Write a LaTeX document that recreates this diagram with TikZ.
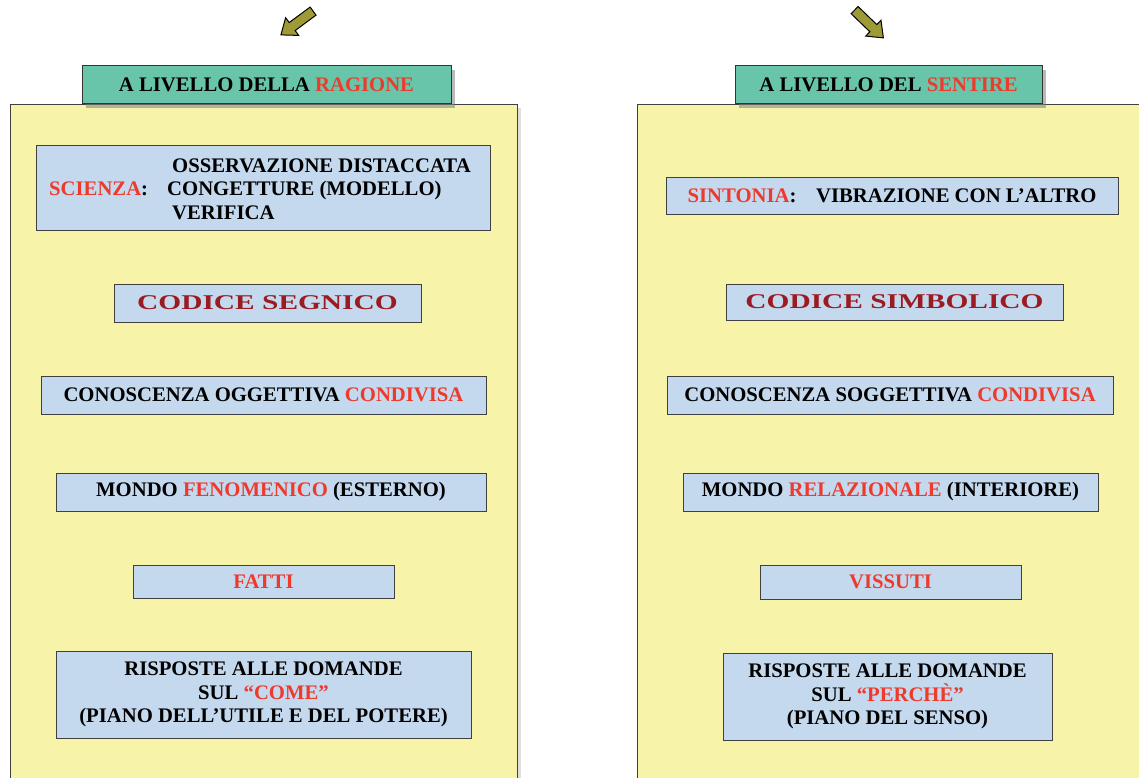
\documentclass[tikz,border=0pt]{standalone}
\usepackage{fontspec}
\setmainfont{Liberation Serif}
\usetikzlibrary{shadows}
\definecolor{panelY}{HTML}{F7F4AA}
\definecolor{boxB}{HTML}{C4D8EE}
\definecolor{headG}{HTML}{68C5A9}
\definecolor{redT}{HTML}{EE3A2C}
\definecolor{darkR}{HTML}{9A1C22}
\definecolor{olive}{HTML}{9E9A35}
\newcommand{\R}[1]{\textcolor{redT}{#1}}
\newcommand{\mainfs}{\bfseries\fontsize{20.7}{23.5}\selectfont}
\tikzset{
  panel/.style={draw=black!75, line width=1pt, fill=panelY, drop shadow={opacity=0.25, shadow xshift=4pt, shadow yshift=-3pt}},
  header/.style={draw=black!80, line width=1pt, fill=headG, inner sep=0pt, font=\mainfs, drop shadow={opacity=0.55, shadow xshift=4pt, shadow yshift=-4pt}},
  bbox/.style={draw=black!75, line width=1pt, fill=boxB, inner sep=0pt, align=center, font=\mainfs},
  codice/.style={font=\bfseries\fontsize{21}{23}\selectfont, text=darkR},
  blockarrow/.style={fill=olive, draw=black, line width=1pt, line join=miter}
}
\begin{document}
\begin{tikzpicture}[x=1pt,y=-1pt]
\useasboundingbox (0,0) rectangle (1139,778);
% arrows
\begin{scope}[shift={(297,23)}, rotate=216.5]
  \draw[blockarrow] (-20,-5) -- (6,-5) -- (6,-11) -- (20,0) -- (6,11) -- (6,5) -- (-20,5) -- cycle;
\end{scope}
\begin{scope}[shift={(869,24)}, rotate=-44]
  \draw[blockarrow] (-20,-5) -- (6,-5) -- (6,-11) -- (20,0) -- (6,11) -- (6,5) -- (-20,5) -- cycle;
\end{scope}
% panels
\path[panel] (10,105) rectangle (517,795);
\path[panel] (637,105) rectangle (1150,795);
% headers
\node[header, minimum width=369pt, minimum height=38pt] (hL) at (266.5,85) {A LIVELLO DELLA \R{RAGIONE}};
\node[header, minimum width=307pt, minimum height=38pt] (hR) at (888.5,85) {A LIVELLO DEL \R{SENTIRE}};
% left boxes
\node[bbox, minimum width=454pt, minimum height=84pt] (sci) at (263,188) {};
\node[anchor=west, font=\mainfs, text=redT, inner sep=0pt] (sciL) at (49,189) {SCIENZA\textcolor{black}{:}};
\node[anchor=west, font=\mainfs, align=left, inner sep=0pt] (sciT) at (167,189) {\hspace*{5pt}OSSERVAZIONE DISTACCATA\\CONGETTURE (MODELLO)\\\hspace*{5pt}VERIFICA};
\node[bbox, minimum width=307pt, minimum height=38pt] (cs) at (267.5,303) {};
\node[codice] at (cs) {\scalebox{1.4}[1]{CODICE SEGNICO}};
\node[bbox, minimum width=445pt, minimum height=38pt] (co) at (263.5,395) {CONOSCENZA OGGETTIVA \R{CONDIVISA}};
\node[bbox, minimum width=430pt, minimum height=38pt] (mf) at (271,492) {MONDO \R{FENOMENICO} (ESTERNO)};
\node[bbox, minimum width=261pt, minimum height=33pt] (fa) at (263.5,581.5) {\R{FATTI}};
\node[bbox, minimum width=415pt, minimum height=87pt] (rl) at (263.5,694.5) {RISPOSTE ALLE DOMANDE\\SUL \R{“COME”}\\(PIANO DELL’UTILE E DEL POTERE)};
% right boxes
\node[bbox, minimum width=452pt, minimum height=37pt] (si) at (892,195.5) {\R{SINTONIA}:\hspace{0.7em} VIBRAZIONE CON L’ALTRO};
\node[bbox, minimum width=337pt, minimum height=36pt] (csi) at (894.5,302) {};
\node[codice] at (csi) {\scalebox{1.4}[1]{CODICE SIMBOLICO}};
\node[bbox, minimum width=446pt, minimum height=38pt] (cso) at (890,395) {CONOSCENZA SOGGETTIVA \R{CONDIVISA}};
\node[bbox, minimum width=415pt, minimum height=38pt] (mr) at (890.5,492) {MONDO \R{RELAZIONALE} (INTERIORE)};
\node[bbox, minimum width=261pt, minimum height=34pt] (vi) at (890.5,582) {\R{VISSUTI}};
\node[bbox, minimum width=329pt, minimum height=87pt] (rr) at (887.5,696.5) {RISPOSTE ALLE DOMANDE\\SUL \R{“PERCHÈ”}\\(PIANO DEL SENSO)};
\end{tikzpicture}
\end{document}
